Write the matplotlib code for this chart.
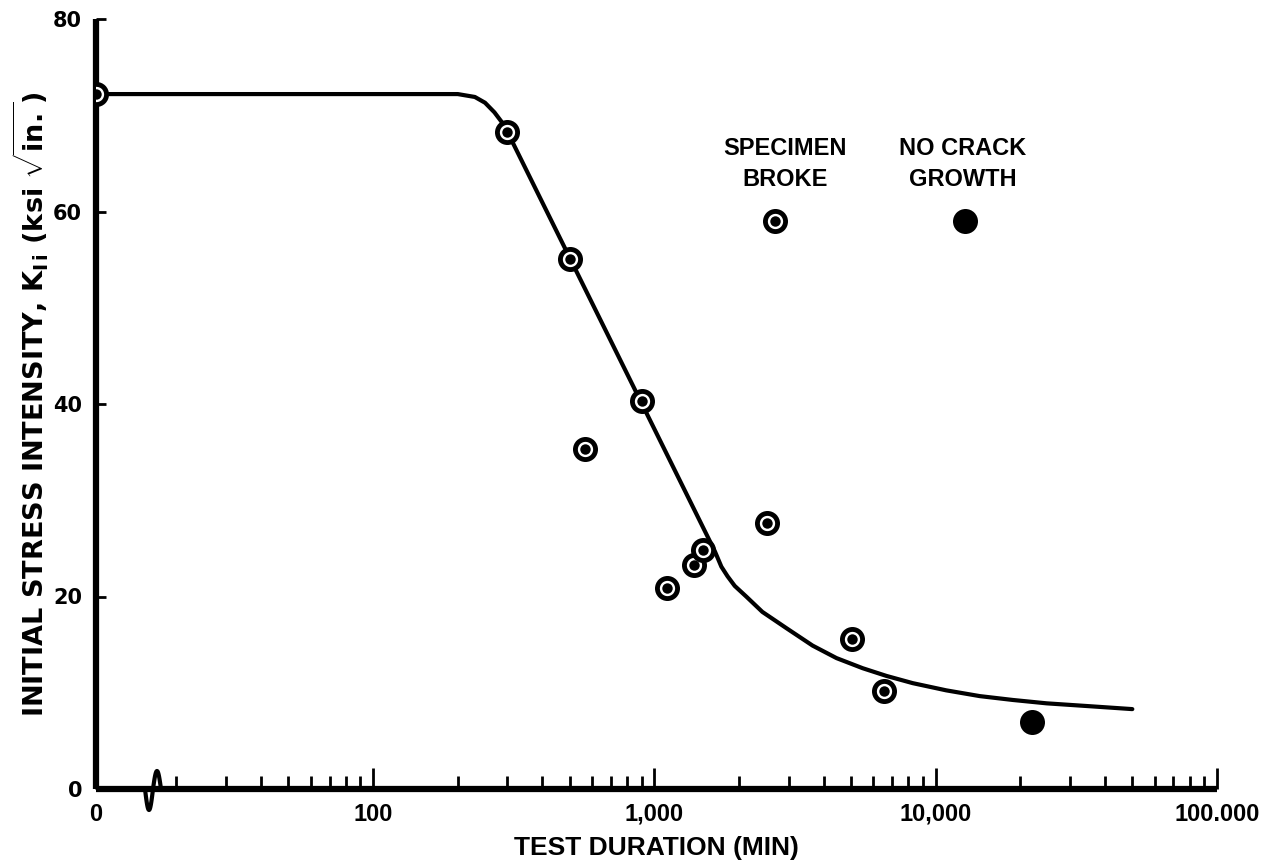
import matplotlib
matplotlib.use("Agg")
import matplotlib.pyplot as plt
import numpy as np

# ---------------- data ----------------
# test duration (min); 0 is drawn on the broken-axis origin
broke_t = [0, 300, 500, 565, 900, 1110, 1380, 1490, 2520, 5030, 6530]
broke_K = [72.2, 68.3, 55.1, 35.3, 40.3, 20.9, 23.3, 24.8, 27.6, 15.6, 10.2]

nogrowth_t = [22000]
nogrowth_K = [7.0]

curve_t = [0, 200, 230, 250, 270, 290, 300, 1640, 1730, 1820, 1930, 2120, 2420,
           2950, 3650, 4440, 5500, 6680, 8280, 10900, 14350, 18800, 24800,
           35300, 50000]
curve_K = [72.2, 72.2, 71.9, 71.3, 70.3, 69.1, 68.3, 24.7, 23.1, 22.1, 21.1,
           20.0, 18.4, 16.7, 14.9, 13.6, 12.55, 11.75, 11.0, 10.25, 9.65, 9.25,
           8.9, 8.6, 8.3]

xtick_vals = [0, 100, 1000, 10000, 100000]
xtick_labels = ["0", "100", "1,000", "10,000", "100.000"]
ytick_vals = [0, 20, 40, 60, 80]
ytick_labels = ["0", "20", "40", "60", "80"]

# ---------------- style ----------------
LET = ["Liberation Sans", "DejaVu Sans"]
plt.rcParams["font.family"] = LET
plt.rcParams["mathtext.fontset"] = "custom"
plt.rcParams["mathtext.rm"] = "DejaVu Sans:bold"
plt.rcParams["mathtext.it"] = "DejaVu Sans:bold"
plt.rcParams["mathtext.bf"] = "DejaVu Sans:bold"

X_ZERO = 10.35  # left end of the (broken) log axis, labelled "0"


def on_axis(ts):
    return [X_ZERO if v == 0 else v for v in ts]


W, H = 1288, 868
fig = plt.figure(figsize=(W / 100, H / 100), dpi=100)
L, R, T, B = 96, 1217, 19, 789
ax = fig.add_axes([L / W, 1 - B / H, (R - L) / W, (B - T) / H])

ax.set_xscale("log")
ax.set_xlim(X_ZERO, 1e5)
ax.set_ylim(0, 80)

for s in ("top", "right"):
    ax.spines[s].set_visible(False)
for s in ("left", "bottom"):
    ax.spines[s].set_linewidth(4.5)
    ax.spines[s].set_capstyle("butt")

# curve
ax.plot(on_axis(curve_t), curve_K, color="black", lw=3.0,
        solid_joinstyle="round", solid_capstyle="round", zorder=2)

# specimen broke: ring + dot
ax.plot(on_axis(broke_t), broke_K, ls="none", marker="o", ms=14.5,
        mfc="white", mec="black", mew=3.5, zorder=3)
ax.plot(on_axis(broke_t), broke_K, ls="none", marker="o", ms=7.5,
        mfc="black", mec="black", mew=0, zorder=4)

# no crack growth: filled
ax.plot(nogrowth_t, nogrowth_K, ls="none", marker="o", ms=18,
        mfc="black", mec="black", mew=0, zorder=3)

# ticks
ax.set_xticks(on_axis(xtick_vals))
ax.set_xticklabels(xtick_labels)
minor = [m * 10 ** e for e in range(1, 5) for m in range(2, 10)]
ax.set_xticks(minor, minor=True)
ax.xaxis.set_minor_formatter(matplotlib.ticker.NullFormatter())
ax.tick_params(axis="x", which="major", direction="in", length=15, width=2.0,
               pad=10, labelsize=17)
ax.tick_params(axis="x", which="minor", direction="in", length=9.5, width=2.0)
for lab in ax.get_xticklabels():
    lab.set_fontweight("bold")
    lab.set_family(LET)

ax.set_yticks(ytick_vals)
ax.set_yticklabels(ytick_labels)
ax.tick_params(axis="y", which="major", direction="in", length=7, width=2.0,
               pad=10, labelsize=15)
for lab in ax.get_yticklabels():
    lab.set_fontweight("bold")
    lab.set_family(["DejaVu Sans"])

# axis labels
ax.set_xlabel("TEST DURATION (MIN)", fontsize=19, fontweight="bold", va="center")
ax.xaxis.set_label_coords(0.5, -(848 - B) / (B - T))
ax.set_ylabel(r"INITIAL STRESS INTENSITY, K$_{\rm I\,i}$ (ksi $\sqrt{\rm in.}$)",
              fontsize=19.5, fontweight="bold", va="center",
              family=["DejaVu Sans"])
ax.yaxis.set_label_coords(-(L - 31) / (R - L), 0.5)

# axis break symbol on the x axis
s = np.linspace(0, 1, 60)
xc, w = (153 - L) / (R - L), 8 / (R - L)
amp = np.where(s < 0.5, 21 / (B - T), 18 / (B - T))
ax.plot(xc - w + 2 * w * s, -amp * np.sin(2 * np.pi * s), color="black", lw=3.0,
        transform=ax.transAxes, clip_on=False, zorder=5, solid_capstyle="round")

# legend (as in the figure)
lx1, lx2 = (775 - L) / (R - L), (965 - L) / (R - L)
ly = (B - 221) / (B - T)
ax.plot([lx1], [ly], ls="none", marker="o", ms=14.5, mfc="white", mec="black",
        mew=3.5, transform=ax.transAxes, zorder=3)
ax.plot([lx1], [ly], ls="none", marker="o", ms=7.5, mfc="black", mew=0,
        transform=ax.transAxes, zorder=4)
ax.plot([lx2], [ly], ls="none", marker="o", ms=18, mfc="black", mew=0,
        transform=ax.transAxes, zorder=3)
ty = (B - 164) / (B - T)
ax.text((785 - L) / (R - L), ty, "SPECIMEN\nBROKE", transform=ax.transAxes,
        ha="center", va="center", fontsize=17, fontweight="bold", linespacing=1.45)
ax.text((963 - L) / (R - L), ty, "NO CRACK\nGROWTH", transform=ax.transAxes,
        ha="center", va="center", fontsize=17, fontweight="bold", linespacing=1.45)

fig.savefig("out.png", dpi=100, facecolor="white")
